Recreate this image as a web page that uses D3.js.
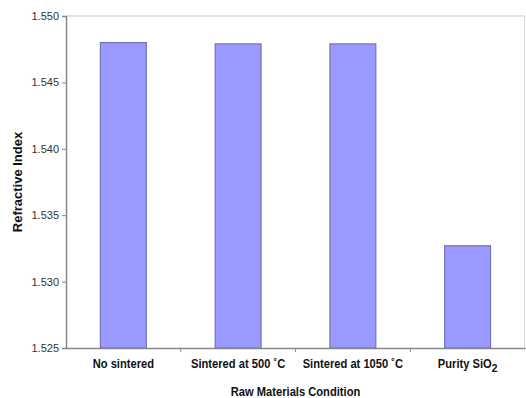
<!DOCTYPE html>
<html><head><meta charset="utf-8">
<script src="https://cdn.jsdelivr.net/npm/d3@7"></script>
<style>body{margin:0;background:#fff}svg{display:block}text{font-family:"Liberation Sans",Arial,sans-serif}</style>
</head><body><svg id="c" width="526" height="398"></svg>
<script>
const categories = ["No sintered", "Sintered at 500 ˚C", "Sintered at 1050 ˚C", "Purity SiO2"];
const values = [1.5480, 1.5479, 1.5479, 1.5327];
const yTicks = [1.525, 1.530, 1.535, 1.540, 1.545, 1.550];

const svg = d3.select("#c");
const m = {l:66, r:1, t:16, b:50};
const W = 526, H = 398;
const x = d3.scaleBand().domain(categories).range([m.l, W - m.r]).paddingInner(0.6).paddingOuter(0.3);
const y = d3.scaleLinear().domain([1.525, 1.550]).range([H - m.b, m.t]);

// frame top & right
svg.append("line").attr("x1", m.l).attr("x2", W - m.r).attr("y1", m.t).attr("y2", m.t).attr("stroke", "#c8c8c8");
svg.append("line").attr("x1", W - m.r - 0.5).attr("x2", W - m.r - 0.5).attr("y1", m.t).attr("y2", H - m.b).attr("stroke", "#d8d8d8");

svg.selectAll("rect.bar").data(values).join("rect").attr("class", "bar")
  .attr("x", (d, i) => x(categories[i]))
  .attr("width", x.bandwidth())
  .attr("y", d => y(d))
  .attr("height", d => y(1.525) - y(d))
  .attr("fill", "#9999ff").attr("stroke", "#7474b8").attr("stroke-width", 1.2);

const ya = svg.append("g").attr("transform", `translate(${m.l},0)`)
  .call(d3.axisLeft(y).tickValues(yTicks).tickFormat(d3.format(".3f")).tickSize(4).tickPadding(3));
ya.select(".domain").attr("stroke", "#888").attr("stroke-width", 1.5);
ya.selectAll(".tick line").attr("stroke", "#888");
ya.selectAll(".tick text").attr("font-size", 11).attr("fill", "#333").attr("font-family", "Liberation Sans, Arial");

const xa = svg.append("g").attr("transform", `translate(0,${H - m.b})`)
  .call(d3.axisBottom(x).tickSize(0).tickFormat(""));
xa.select(".domain").attr("stroke", "#888").attr("stroke-width", 1.5);
// tick marks between categories
const step = x.step();
svg.selectAll("line.xt").data(categories.slice(1)).join("line").attr("class", "xt")
  .attr("x1", d => x(d) - step * x.paddingInner() / 2).attr("x2", d => x(d) - step * x.paddingInner() / 2)
  .attr("y1", H - m.b).attr("y2", H - m.b + 4).attr("stroke", "#888");

const lab = svg.selectAll("text.xl").data(categories).join("text").attr("class", "xl")
  .attr("transform", d => `translate(${x(d) + x.bandwidth() / 2},${H - m.b + 20}) scale(0.93,1)`)
  .attr("text-anchor", "middle").attr("font-size", 12).attr("font-weight", "bold").attr("fill", "#111");
lab.each(function(d) {
  const t = d3.select(this);
  if (d === "Purity SiO2") {
    t.append("tspan").text("Purity SiO");
    t.append("tspan").attr("dy", 4).attr("font-size", 11).text("2");
  } else t.text(d);
});

svg.append("text").attr("transform", `translate(${(m.l + W - m.r) / 2},396) scale(0.93,1)`).attr("text-anchor", "middle")
  .attr("font-size", 12).attr("font-weight", "bold").attr("fill", "#111").text("Raw Materials Condition");
svg.append("text").attr("transform", `translate(22,${(m.t + H - m.b) / 2}) rotate(-90)`).attr("text-anchor", "middle")
  .attr("font-size", 13).attr("font-weight", "bold").attr("fill", "#111").text("Refractive Index");
</script></body></html>
